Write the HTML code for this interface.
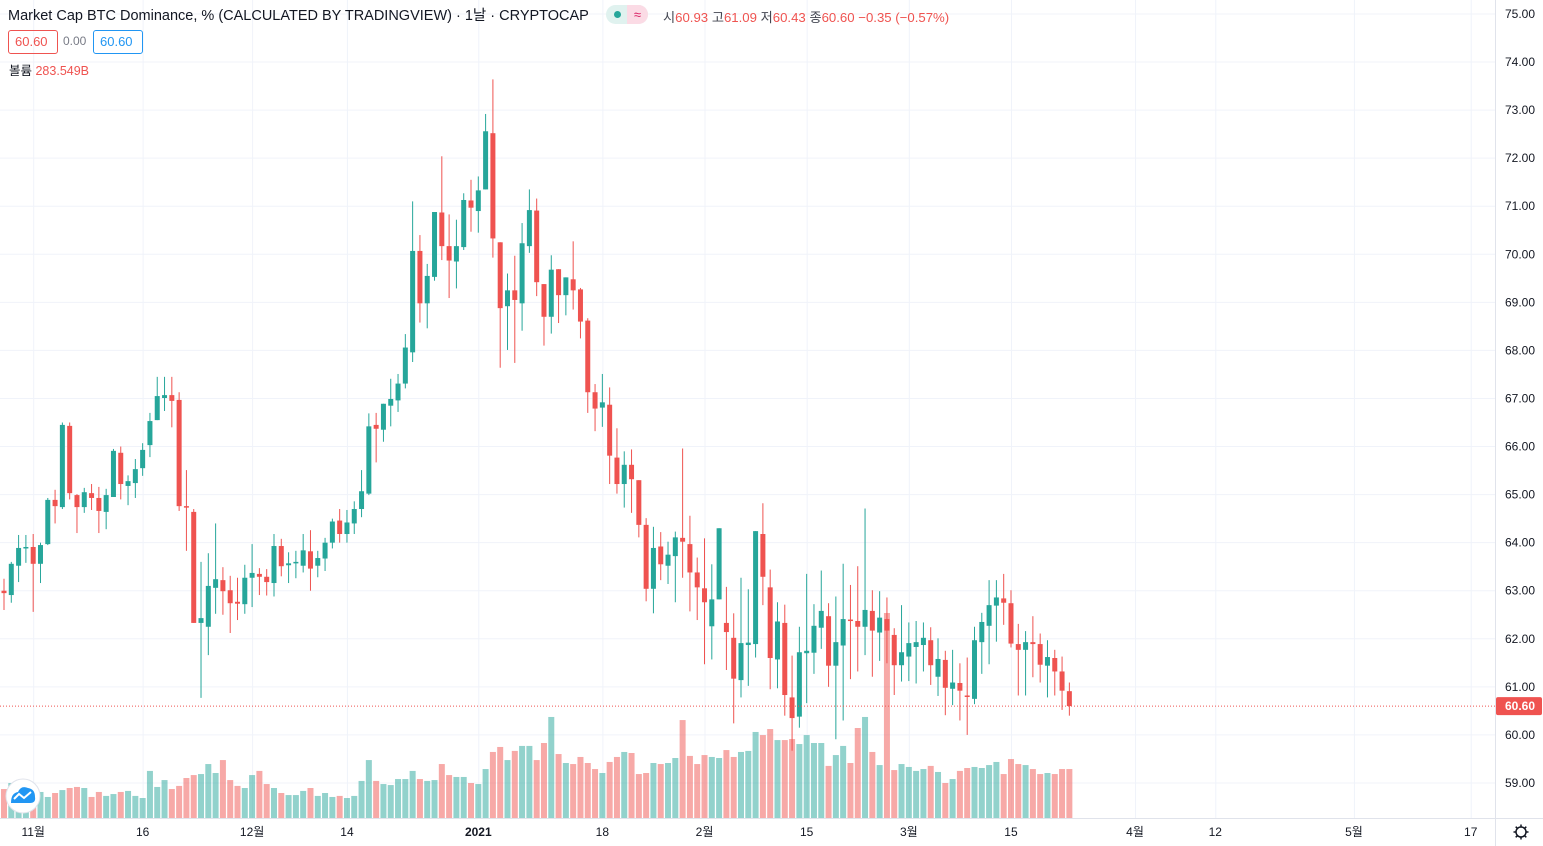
<!DOCTYPE html>
<html><head><meta charset="utf-8">
<style>
html,body{margin:0;padding:0;background:#fff;width:1543px;height:846px;overflow:hidden;font-family:"Liberation Sans","Noto Sans CJK KR",sans-serif;}
#wrap{position:relative;width:1543px;height:846px;}
svg{position:absolute;left:0;top:0;}
.hdr{position:absolute;left:8px;top:4px;font-size:14.5px;color:#131722;white-space:nowrap;}
.pill{position:absolute;left:606px;top:5px;width:42px;height:19px;border-radius:10px;background:#e0f2ef;overflow:hidden;}
.pill .r{position:absolute;left:21px;top:0;width:21px;height:19px;background:#fbdbe5;color:#d81b60;font-size:13px;text-align:center;line-height:19px;}
.pill .d{position:absolute;left:8px;top:6px;width:7px;height:7px;border-radius:50%;background:#26a69a;}
.ohlc{position:absolute;left:663px;top:7px;font-size:13.2px;color:#ef5350;white-space:nowrap;}
.ohlc b{font-weight:normal;color:#434651;}
.box{position:absolute;top:30px;height:22px;line-height:22px;font-size:13px;border-radius:3px;padding:0 6px;}
.vol{position:absolute;left:9px;top:60px;font-size:12.5px;color:#131722;white-space:nowrap;}
.vol span{color:#ef5350;}
</style></head><body>
<div id="wrap">
<svg id="chart" width="1543" height="846"></svg>
<div class="hdr">Market Cap BTC Dominance, % (CALCULATED BY TRADINGVIEW) · 1날 · CRYPTOCAP</div>
<div class="pill"><div class="d"></div><div class="r">≈</div></div>
<div class="ohlc"><b>시</b>60.93 <b>고</b>61.09 <b>저</b>60.43 <b>종</b>60.60 −0.35 (−0.57%)</div>
<div class="box" style="left:8px;width:36px;border:1px solid #ef5350;color:#ef5350;">60.60</div>
<div class="box" style="left:57px;color:#787b86;font-size:12px;">0.00</div>
<div class="box" style="left:93px;width:36px;border:1px solid #2196f3;color:#2196f3;">60.60</div>
<div class="vol">볼륨 <span>283.549B</span></div>
</div>
<script>
const opens=[63.0,62.91,63.52,63.89,63.91,63.56,63.97,64.89,64.74,66.43,64.99,64.74,65.03,64.93,64.64,64.95,65.87,65.18,65.24,65.55,66.03,66.55,67.01,67.07,66.97,64.76,64.64,62.33,62.25,63.06,63.22,63.01,62.77,62.72,63.27,63.35,63.29,
63.16,63.93,63.53,63.57,63.52,63.82,63.52,63.67,64.0,64.46,64.18,64.4,64.7,65.02,66.45,66.35,66.85,66.96,67.31,67.96,70.07,68.98,69.53,70.87,70.17,69.85,70.15,71.12,70.9,71.35,72.52,70.25,68.92,69.25,68.98,70.17,70.91,
69.38,68.7,69.69,69.15,69.48,69.27,68.62,67.13,66.81,66.87,65.77,65.22,65.62,65.3,64.37,63.04,63.92,63.52,63.72,64.1,63.97,63.38,63.05,62.26,62.82,62.33,62.02,61.14,61.87,61.89,64.18,63.07,61.57,62.33,60.78,
60.38,61.7,61.71,62.23,62.47,61.44,61.86,62.4,62.37,62.25,62.58,62.13,62.41,62.08,61.45,61.63,61.83,61.87,61.97,61.21,61.56,60.96,61.08,60.82,60.75,61.93,62.27,62.69,62.84,62.74,61.89,61.77,61.93,61.89,61.44,61.6,61.32,60.91];
const highs=[63.25,63.6,64.16,64.16,64.18,64.0,64.93,65.1,66.5,66.5,65.01,65.14,65.22,65.16,65.12,65.95,66.0,65.4,65.74,66.07,66.7,67.45,67.45,67.45,67.13,65.51,64.7,63.6,63.78,64.4,63.49,63.31,63.27,63.54,63.97,63.47,63.45,
64.18,64.08,63.8,63.83,64.18,64.26,63.83,64.1,64.5,64.7,64.68,64.86,65.51,66.69,66.7,66.89,67.41,67.51,68.34,71.1,70.4,69.8,70.88,72.04,70.83,70.72,71.27,71.55,71.62,72.92,73.64,70.25,69.6,69.97,70.65,71.35,71.16,
69.38,69.98,69.69,69.52,70.27,69.3,68.67,67.3,67.51,67.23,66.38,65.9,65.94,65.3,64.51,64.33,64.22,64.02,64.23,65.96,64.56,63.69,64.09,63.55,64.3,63.08,62.53,63.27,63.03,64.24,64.82,63.44,62.76,62.71,61.65,
62.25,63.35,62.72,63.42,62.74,62.88,63.56,63.12,63.51,64.71,63.01,62.99,62.86,62.22,62.7,62.34,62.37,62.34,62.24,62.01,61.75,61.77,61.49,61.61,62.25,62.54,63.22,63.22,63.35,63.01,62.31,62.16,62.47,62.11,61.97,61.77,61.63,61.09];
const lows=[62.6,62.75,63.18,63.58,62.56,63.16,63.95,64.4,64.7,64.9,64.2,64.62,64.68,64.2,64.28,64.95,64.9,64.78,64.93,65.39,65.78,66.55,66.74,66.4,64.66,63.83,62.33,60.77,61.66,62.52,62.5,62.12,62.39,62.52,62.66,62.91,62.9,
62.88,63.3,63.16,63.26,63.38,63.0,63.28,63.41,63.88,64.0,64.0,64.18,64.53,64.99,65.67,66.1,66.42,66.72,67.21,67.76,68.58,68.46,69.45,69.88,69.09,69.29,70.09,70.47,70.45,71.35,69.93,67.64,68.01,67.74,68.41,70.03,69.13,
68.1,68.35,68.57,68.73,68.85,68.25,66.7,66.32,66.41,65.22,65.02,64.73,64.62,64.11,62.78,62.53,63.22,63.14,62.76,63.27,62.57,62.39,61.47,61.57,62.82,61.35,60.24,60.78,61.02,61.61,62.7,60.95,60.97,60.4,59.67,
60.15,60.66,61.27,61.79,61.0,59.91,60.3,61.16,61.32,61.66,61.21,61.54,61.49,60.83,61.11,61.12,61.07,61.32,61.04,60.81,60.41,60.62,60.3,60.0,60.64,61.27,61.47,61.94,62.29,61.82,60.82,60.82,61.2,61.09,60.78,60.82,60.52,60.4];
const closes=[62.95,63.56,63.89,63.91,63.56,63.95,64.89,64.76,66.45,65.03,64.74,65.05,64.93,64.66,64.99,65.91,65.22,65.28,65.53,65.93,66.53,67.05,67.07,66.95,64.76,64.74,62.33,62.43,63.1,63.24,62.99,62.74,62.73,63.27,63.37,63.29,63.18,
63.93,63.51,63.57,63.6,63.84,63.46,63.68,64.0,64.44,64.18,64.42,64.7,65.07,66.42,66.37,66.89,66.99,67.31,68.06,70.07,68.98,69.55,70.88,70.17,69.87,70.17,71.13,70.97,71.33,72.56,70.33,68.88,69.25,69.05,70.23,70.92,69.42,
68.7,69.68,69.15,69.52,69.25,68.6,67.13,66.79,66.92,65.81,65.22,65.62,65.32,64.37,63.04,63.89,63.55,63.75,64.11,64.02,63.38,63.07,62.76,62.82,64.3,62.14,61.17,61.91,61.92,64.24,63.29,61.6,62.36,60.83,60.35,
61.72,61.75,62.27,62.58,61.44,61.93,62.41,62.38,62.25,62.6,62.17,62.44,62.17,61.45,61.72,61.91,61.93,62.02,61.45,61.58,60.98,61.09,60.92,60.79,61.97,62.35,62.7,62.86,62.75,61.9,61.77,61.93,61.89,61.46,61.62,61.32,60.92,60.6];
const volumes=[168,203,151,151,174,151,122,145,162,174,180,174,122,151,128,139,151,157,128,116,273,180,220,168,186,232,249,255,313,261,336,220,186,174,249,273,197,
174,145,133,133,157,174,128,145,122,128,116,128,215,336,215,197,191,226,226,273,226,215,220,313,249,238,238,203,197,284,383,412,336,389,418,418,336,
435,586,371,319,313,354,319,284,261,325,354,383,377,255,261,319,313,319,348,568,360,313,365,354,348,394,354,383,389,499,481,516,452,452,458,
429,481,435,435,302,365,418,319,522,586,383,307,1189,278,313,296,273,284,302,267,203,226,273,290,296,290,307,325,255,342,313,307,284,255,261,255,284,284];
const priceTicks=[75,74,73,72,71,70,69,68,67,66,65,64,63,62,61,60,59];
const timeLabels=["11월","16","12월","14","2021","18","2월","15","3월","15","4월","12","5월","17"];
const timeLabelIdx=[4,19,34,47,65,82,96,110,124,138,155,166,185,201];
const lastPrice=60.60;

const NS="http://www.w3.org/2000/svg";
const svg=document.getElementById('chart');
const PW=1495, AXY=818;
const yP=p=>14+(75-p)*48.06;
const xI=i=>4+7.297*i;
const yV=v=>AXY-v/5.8;
function mk(tag,attrs,parent){const e=document.createElementNS(NS,tag);for(const k in attrs)e.setAttribute(k,attrs[k]);(parent||svg).appendChild(e);return e;}
const grid=mk('g',{});


priceTicks.forEach(p=>{const l=mk('line',{x1:0,x2:PW,y1:yP(p),y2:yP(p),stroke:'#f0f3fa','stroke-width':1},grid);

});
timeLabelIdx.forEach(i=>{const l=mk('line',{x1:xI(i)+0.5,x2:xI(i)+0.5,y1:0,y2:AXY,stroke:'#f0f3fa','stroke-width':1},grid);

});
const vg=mk('g',{});


volumes.forEach((v,i)=>{const up=closes[i]>=opens[i];const r=mk('rect',{x:xI(i)-3,y:yV(v),width:6,height:AXY-yV(v),fill:up?'rgba(38,166,154,0.5)':'rgba(239,83,80,0.5)'},vg);

});
const cg=mk('g',{});


opens.forEach((o,i)=>{const c=closes[i];const up=c>=o;const col=up?'#26a69a':'#ef5350';const x=xI(i);
const g=mk('g',{},cg);


mk('line',{x1:x,x2:x,y1:yP(highs[i]),y2:yP(lows[i]),stroke:col,'stroke-width':1},g);
const t=yP(Math.max(o,c)),b=yP(Math.min(o,c));
mk('rect',{x:x-2.5,y:t,width:5,height:Math.max(1.5,b-t),fill:col},g);});
const lp=mk('line',{x1:0,x2:PW,y1:yP(lastPrice),y2:yP(lastPrice),stroke:'#ef5350','stroke-width':1,'stroke-dasharray':'1,2'});


const ax=mk('g',{});


mk('line',{x1:PW+0.5,x2:PW+0.5,y1:0,y2:846,stroke:'#e0e3eb'},ax);
priceTicks.forEach(p=>{const t=mk('text',{x:1520,y:yP(p)+4,'font-size':12,fill:'#131722','text-anchor':'middle','font-family':'Liberation Sans,sans-serif'},ax);t.textContent=p.toFixed(2);

});
const lbg=mk('rect',{x:1496,y:yP(lastPrice)-9,width:46,height:18,fill:'#ef5350',rx:2});


const lt=mk('text',{x:1520,y:yP(lastPrice)+4,'font-size':12,'font-weight':'bold',fill:'#fff','text-anchor':'middle','font-family':'Liberation Sans,sans-serif'});lt.textContent=lastPrice.toFixed(2);


const tx=mk('g',{});


mk('line',{x1:0,x2:1543,y1:AXY+0.5,y2:AXY+0.5,stroke:'#e0e3eb'},tx);
timeLabels.forEach((s,k)=>{const t=mk('text',{x:xI(timeLabelIdx[k]),y:836,'font-size':12,fill:'#131722','text-anchor':'middle','font-weight':s==='2021'?'bold':'normal','font-family':'Liberation Sans,Noto Sans CJK KR,sans-serif'},tx);t.textContent=s;

});
const lg=mk('g',{});


mk('circle',{cx:23,cy:796,r:17,fill:'#fff',stroke:'#e0e3eb'},lg);
mk('path',{d:'M11 803 Q11 793 18 792 Q21 785 28 788 Q35 789 35 797 Q36 803 30 803 Z',fill:'#2196f3'},lg);
mk('path',{d:'M14 799 L19 794 L24 798 L31 792',stroke:'#fff','stroke-width':2,fill:'none'},lg);
const gr=mk('g',{});


mk('circle',{cx:1521,cy:832,r:5,fill:'none',stroke:'#131722','stroke-width':1.5},gr);
for(let a=0;a<8;a++){const an=a*Math.PI/4;mk('line',{x1:1521+5*Math.cos(an),y1:832+5*Math.sin(an),x2:1521+7.5*Math.cos(an),y2:832+7.5*Math.sin(an),stroke:'#131722','stroke-width':1.5},gr);}
</script>
</body></html>
